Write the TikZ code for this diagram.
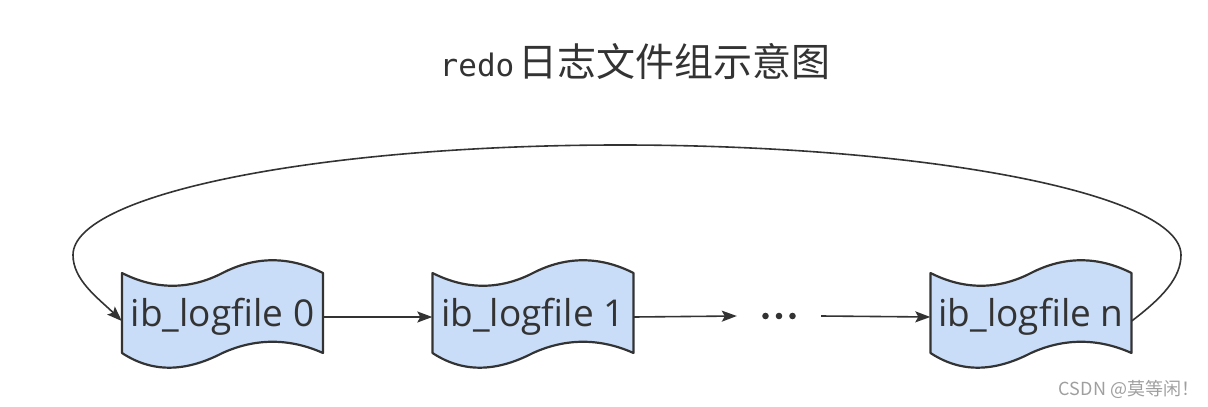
\documentclass[tikz,border=0pt]{standalone}
\usepackage{fontspec}
\setmainfont{Open Sans}
\newfontfamily\cjk{Noto Sans CJK SC}
\newfontfamily\monof{DejaVu Sans Mono}
\usetikzlibrary{arrows.meta,backgrounds}
\definecolor{tapefill}{HTML}{C9DDF8}
\definecolor{ink}{HTML}{333333}
\tikzset{
  filebox/.style={minimum width=201pt,minimum height=80pt,inner sep=0pt,
    font=\fontsize{37}{40}\selectfont,text=ink},
  arr/.style={draw=ink,line width=1.6pt,-{Stealth[length=15pt,width=11pt,inset=3pt]}},
  logtape/.pic={
    \path[fill=tapefill,draw=ink,line width=2.2pt,line join=round]
      (-100.5,-40) .. controls (-67,-23) and (-33,-23) .. (0,-40)
      .. controls (33,-57) and (67,-57) .. (100.5,-40)
      -- (100.5,40) .. controls (67,25) and (33,25) .. (0,40)
      .. controls (-33,57) and (-67,62) .. (-100.5,40) -- cycle;
  }
}
\begin{document}
\begin{tikzpicture}[x=1pt,y=-1pt]
\useasboundingbox (0,0) rectangle (1208,407);
\node[text=ink,inner sep=0pt] (title) at (635,62)
  {{\monof\fontsize{31}{34}\selectfont redo}\hspace{4pt}{\cjk\fontsize{39}{42}\selectfont 日志文件组示意图}};
\node[filebox] (f0) at (222.5,317) {ib\_logfile 0};
\node[filebox] (f1) at (533,317) {ib\_logfile 1};
\node[filebox] (fn) at (1031,317) {ib\_logfile n};
\node[minimum width=84pt,minimum height=10pt,inner sep=0pt] (dots) at (779,316) {};
\begin{scope}[on background layer]
  \pic at (222.5,313) {logtape};
  \pic at (533,313) {logtape};
  \pic at (1031,313) {logtape};
\end{scope}
\foreach \dx in {-13.5,0,13.5}
  \fill[ink] ([xshift=\dx pt]dots.center) circle (3.3pt);
\draw[arr] (f0.east) -- (f1.west);
\draw[arr] (f1.east) -- (dots.west);
\draw[arr] (dots.east) -- (fn.west);
\coordinate (r) at (1181,255);
\coordinate (t) at (620,145);
\coordinate (l) at (73,255);
\draw[arr] ([yshift=-4pt]fn.east) .. controls (1162,298) and (1181,278) .. (r)
  .. controls (1181,194) and (929,145) .. (t)
  .. controls (319,145) and (73,194) .. (l)
  .. controls (73,280) and (98,298) .. ([yshift=-4pt]f0.west);
\node[text=gray!75,inner sep=0pt,font=\cjk\fontsize{18}{20}\selectfont] (wm) at (1129,389) {CSDN @莫等闲！};
\end{tikzpicture}
\end{document}
